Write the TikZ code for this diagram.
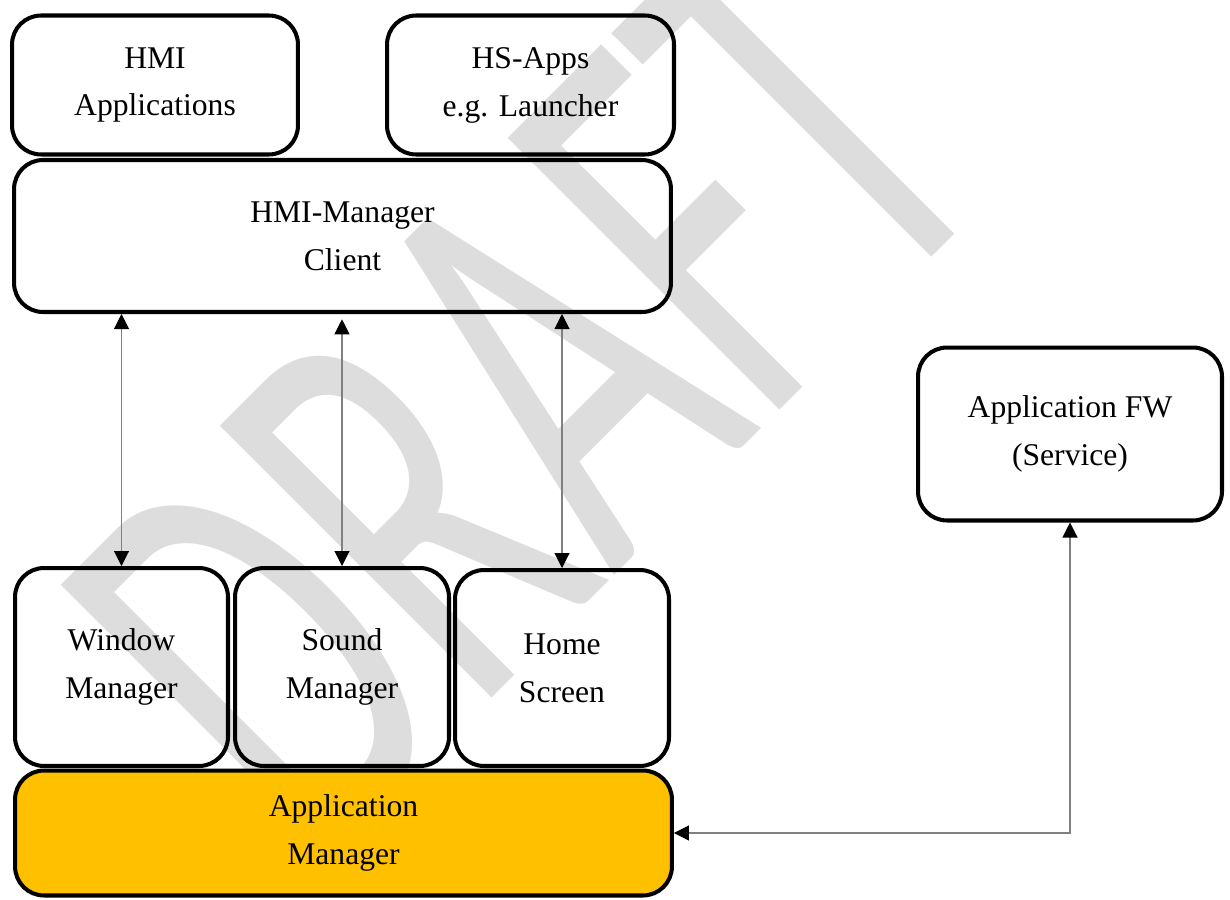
\documentclass[tikz,border=0pt]{standalone}
\usepackage{fontspec}
\setmainfont{Liberation Serif}
\newfontfamily\wmfont{Carlito}
\usetikzlibrary{arrows.meta}

\definecolor{amyellow}{HTML}{FFC000}
\definecolor{wmgray}{HTML}{DDDDDD}
\definecolor{linkgray}{HTML}{808080}

\tikzset{
  blk/.style={draw, line width=2.3pt, rounded corners=0.58cm, align=center,
    inner sep=0pt, font=\fontsize{18}{27.3}\selectfont},
  amblk/.style={blk, fill=amyellow},
  link/.style={draw=linkgray, line width=0.6pt, {Triangle[length=0.3cm,width=0.3cm,color=black]}-{Triangle[length=0.3cm,width=0.3cm,color=black]}},
  wmark/.style={text=wmgray, inner sep=0pt, rotate=45, xscale=0.608,
    font=\wmfont\fontsize{341}{341}\selectfont}
}

\begin{document}
\begin{tikzpicture}[x=0.02cm, y=-0.02cm]
  \useasboundingbox (0,0) rectangle (1230,899);
  % watermark
  \node[wmark] (draft) at (525,393) {DRAFT};

  % top row
  \node[blk, minimum width=5.72cm, minimum height=2.78cm] (happ) at (155,85) {HMI\\Applications};
  \node[blk, minimum width=5.74cm, minimum height=2.78cm] (hsapp) at (530.5,85) {HS-Apps\\e.g. Launcher};
  \node[blk, minimum width=13.14cm, minimum height=3.04cm] (hmic) at (342.5,236) {HMI-Manager\\Client};

  % service side
  \node[blk, minimum width=6.08cm, minimum height=3.46cm] (appfw) at (1070,434) {Application FW\\(Service)};

  % managers
  \node[blk, minimum width=4.26cm, minimum height=3.96cm] (winm) at (121.5,667) {Window\\Manager};
  \node[blk, minimum width=4.28cm, minimum height=3.96cm] (sndm) at (342,667) {Sound\\Manager};
  \node[blk, minimum width=4.28cm, minimum height=3.92cm] (homes) at (562,668) {Home\\Screen};
  \node[amblk, minimum width=13.14cm, minimum height=2.50cm] (appm) at (343.5,833) {Application\\Manager};

  % connectors
  \draw[link] (winm.north) -- (winm.north |- hmic.south);
  \draw[link, shorten >=3pt] (sndm.north) -- (sndm.north |- hmic.south);
  \draw[link] (homes.north) -- (homes.north |- hmic.south);
  \draw[link] (appfw.south) |- (appm.east);
\end{tikzpicture}
\end{document}
